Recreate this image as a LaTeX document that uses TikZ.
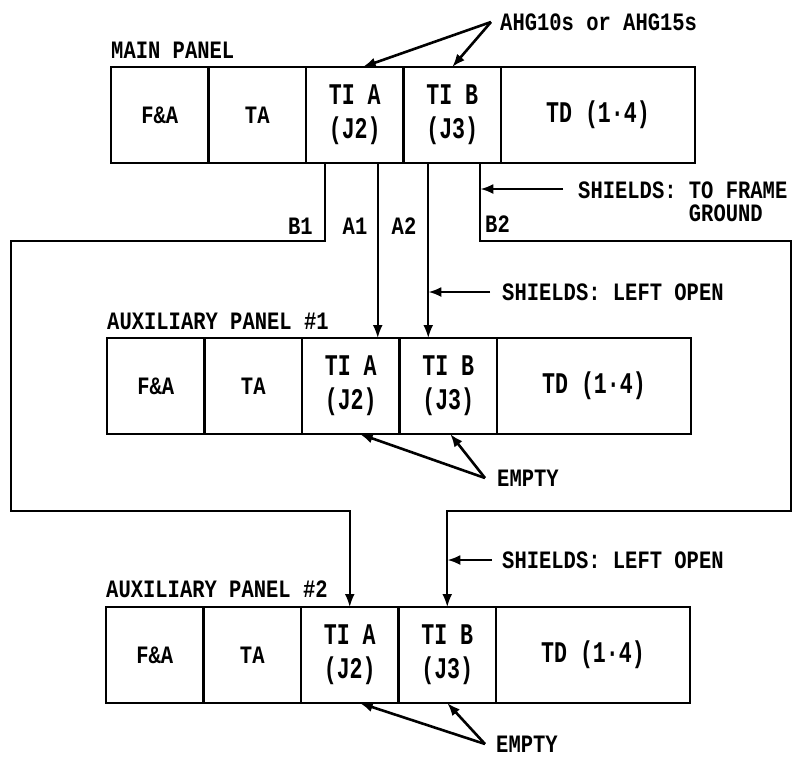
\documentclass[tikz,border=0pt]{standalone}
\usepackage{fontspec}
\usetikzlibrary{arrows.meta,positioning}
\newfontfamily\tagfont[FakeStretch=0.82]{Liberation Mono}
\newfontfamily\slotfont[FakeStretch=0.72]{Liberation Mono}

\begin{document}
\begin{tikzpicture}[x=1pt,y=-1pt,>={Latex[length=13pt,width=10pt]},
cell/.style={draw,line width=2.6pt,minimum width=97.5pt,minimum height=96pt,inner sep=0pt,outer sep=0pt,align=center,font=\slotfont\bfseries\fontsize{30}{34}\selectfont},
flat/.style={cell,font=\tagfont\bfseries\fontsize{25}{28}\selectfont},
wide/.style={cell,minimum width=194pt},
tag/.style={inner sep=0pt,font=\tagfont\bfseries\fontsize{25}{23.5}\selectfont},
wire/.style={line width=2pt},
ptr/.style={->,line width=2.6pt}]
\useasboundingbox (0,0) rectangle (793,756);
% main panel
\node[flat,anchor=north west] (m1) at (111,67) {F\&A};
\node[flat,right=0pt of m1] (m2) {TA};
\node[cell,right=0pt of m2] (m3) {TI A\\(J2)};
\node[cell,right=0pt of m3] (m4) {TI B\\(J3)};
\node[wide,right=0pt of m4] (m5) {TD (1·4)};
\node[tag,anchor=base west] (mainlbl) at ([yshift=9pt]m1.north west) {MAIN PANEL};
% auxiliary panel 1
\node[flat,anchor=north west] (a1) at (107,338) {F\&A};
\node[flat,right=0pt of a1] (a2) {TA};
\node[cell,right=0pt of a2] (a3) {TI A\\(J2)};
\node[cell,right=0pt of a3] (a4) {TI B\\(J3)};
\node[wide,right=0pt of a4] (a5) {TD (1·4)};
\node[tag,anchor=base west] (auxlbl1) at ([yshift=9pt]a1.north west) {AUXILIARY PANEL \#1};
% auxiliary panel 2
\node[flat,anchor=north west] (b1) at (106,607) {F\&A};
\node[flat,right=0pt of b1] (b2) {TA};
\node[cell,right=0pt of b2] (b3) {TI A\\(J2)};
\node[cell,right=0pt of b3] (b4) {TI B\\(J3)};
\node[wide,right=0pt of b4] (b5) {TD (1·4)};
\node[tag,anchor=base west] (auxlbl2) at ([yshift=10pt]b1.north west) {AUXILIARY PANEL \#2};
% cables
\coordinate (b1top) at ([xshift=-30pt]m3.south);
\coordinate (a1top) at ([xshift=23pt]m3.south);
\coordinate (a2top) at ([xshift=-24pt]m4.south);
\coordinate (b2top) at ([xshift=28pt]m4.south);
\coordinate (lt) at (11,241); \coordinate (lb) at (11,511);
\coordinate (rt) at (791,241); \coordinate (rb) at (791,511);
\draw[wire,->] (a1top)--(a1top |- a3.north);
\draw[wire,->] (a2top)--(a2top |- a4.north);
\draw[wire,->] (b1top)|-(lt)--(lb)-|(b3.north);
\draw[wire,->] (b2top)|-(rt)--(rb)-|(b4.north);
\node[tag,anchor=east] (b1name) at (313,226) {B1};
\node[tag] (a1name) at (355,226) {A1};
\node[tag] (a2name) at (404,226) {A2};
\node[tag,anchor=west] (b2name) at (485,224) {B2};
% callouts
\node[tag,anchor=west] (ahg) at (500,22) {AHG10s or AHG15s};
\draw[ptr] ([xshift=-9pt]ahg.west)--([xshift=8pt]m3.north);
\draw[ptr] ([xshift=-9pt]ahg.west)--(m4.north);
\node[tag,anchor=north west,align=left] (frame) at (578,181.5) {SHIELDS: TO FRAME\\\phantom{SHIELDS:X}GROUND};
\draw[ptr] ([shift={(-15pt,-7.5pt)}]frame.north west)--([yshift=-7.5pt]frame.north west -| b2top);
\node[tag,anchor=west] (open1) at (502,292) {SHIELDS: LEFT OPEN};
\draw[ptr] ([xshift=-12pt]open1.west)--(open1.west -| a2top);
\node[tag,anchor=west] (open2) at (502,560) {SHIELDS: LEFT OPEN};
\draw[ptr] ([xshift=-10pt]open2.west)--(open2.west -| b4.north);
\node[tag,anchor=west] (empty1) at (497,478) {EMPTY};
\draw[ptr] ([xshift=-12pt]empty1.west)--([xshift=9pt]a3.south);
\draw[ptr] ([xshift=-12pt]empty1.west)--([xshift=2pt]a4.south);
\node[tag,anchor=west] (empty2) at (496,744) {EMPTY};
\draw[ptr] ([xshift=-11pt]empty2.west)--([xshift=10pt]b3.south);
\draw[ptr] ([xshift=-11pt]empty2.west)--(b4.south);
\end{tikzpicture}
\end{document}
